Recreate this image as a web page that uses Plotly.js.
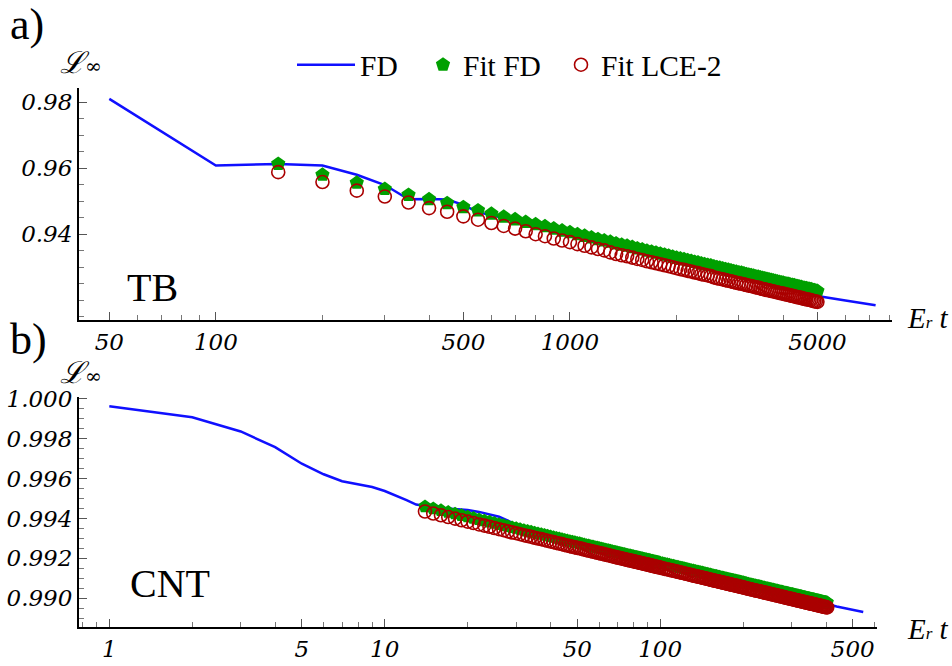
<!DOCTYPE html>
<html>
<head>
<meta charset="utf-8">
<script src="https://cdn.plot.ly/plotly-3.0.1.min.js"></script>
<style>html,body{margin:0;padding:0;background:#fff;}#chart{width:952px;height:666px;}</style>
</head>
<body>
<div id="chart"></div>
<script>
// ---------- Panel a) TB ----------
const tbFdX = [50,100,150,200,250,300,350,400,450,500,550,600,700,800,1000,1500,2000,3000,4000,5000,6000,7300];
const tbFdY = [0.9810,0.9608,0.9613,0.9608,0.9580,0.9549,0.9506,0.9507,0.9505,0.9489,0.9466,0.9458,0.9440,0.9424,0.9396,0.9348,0.9315,0.9270,0.9238,0.9213,0.9199,0.9185];

const tbFitX = [150,200,250,300,350,400,450,500,550,600,650,700,750,800,850,900,950,1000,
1050,1100,1150,1200,1250,1300,1350,1400,1450,1500,1550,1600,1650,1700,1750,1800,1850,1900,1950,2000,
2050,2100,2150,2200,2250,2300,2350,2400,2450,2500,2550,2600,2650,2700,2750,2800,2850,2900,2950,3000,
3050,3100,3150,3200,3250,3300,3350,3400,3450,3500,3550,3600,3650,3700,3750,3800,3850,3900,3950,4000,
4050,4100,4150,4200,4250,4300,4350,4400,4450,4500,4550,4600,4650,4700,4750,4800,4850,4900,4950,5000];

const tbFitFdY = [0.9613,0.9580,0.9556,0.9537,0.9519,0.9506,0.9494,0.9482,0.9472,0.9462,0.9453,0.9445,0.9437,0.9430,0.9424,0.9417,0.9411,0.9406,
0.9400,0.9395,0.9390,0.9385,0.9381,0.9377,0.9372,0.9368,0.9365,0.9361,0.9357,0.9354,0.9350,0.9347,0.9344,0.9341,0.9338,0.9335,0.9332,0.9329,
0.9326,0.9324,0.9321,0.9319,0.9316,0.9314,0.9311,0.9309,0.9307,0.9305,0.9302,0.9300,0.9298,0.9296,0.9294,0.9292,0.9290,0.9288,0.9286,0.9284,
0.9283,0.9281,0.9279,0.9277,0.9276,0.9274,0.9272,0.9271,0.9269,0.9267,0.9266,0.9264,0.9263,0.9261,0.9260,0.9258,0.9257,0.9255,0.9254,0.9253,
0.9251,0.9250,0.9249,0.9247,0.9246,0.9245,0.9243,0.9242,0.9241,0.9240,0.9238,0.9237,0.9236,0.9235,0.9234,0.9233,0.9231,0.9230,0.9229,0.9228];

const tbFitLceY = [0.9588,0.9558,0.9532,0.9514,0.9496,0.9479,0.9468,0.9454,0.9444,0.9434,0.9425,0.9417,0.9409,0.9400,0.9394,0.9387,0.9381,0.9376,
0.9370,0.9365,0.9360,0.9355,0.9351,0.9345,0.9340,0.9336,0.9333,0.9329,0.9325,0.9322,0.9318,0.9315,0.9312,0.9309,0.9306,0.9303,0.9300,0.9297,
0.9294,0.9292,0.9289,0.9287,0.9284,0.9282,0.9279,0.9277,0.9275,0.9273,0.9269,0.9267,0.9265,0.9263,0.9261,0.9259,0.9257,0.9255,0.9253,0.9251,
0.9250,0.9248,0.9246,0.9244,0.9243,0.9241,0.9239,0.9238,0.9236,0.9234,0.9233,0.9231,0.9230,0.9228,0.9227,0.9225,0.9224,0.9222,0.9221,0.9220,
0.9218,0.9217,0.9216,0.9214,0.9213,0.9212,0.9210,0.9209,0.9208,0.9207,0.9205,0.9204,0.9203,0.9202,0.9201,0.9200,0.9198,0.9197,0.9196,0.9195];

// ---------- Panel b) CNT ----------
const cntFdX = [1,2,3,4,5,6,7,8,9,10,11,12,13,14,15,16,17,18,19,20,22,24,26,28,30,35,40,50,70,100,150,200,300,437,546];
const cntFdY = [0.99963,0.99908,0.99837,0.99758,0.99675,0.99622,0.99587,0.99572,0.99558,0.99538,0.99516,0.99492,0.99470,0.99462,0.99456,0.99452,0.99450,0.99448,0.99446,0.99442,0.99433,0.99422,0.99409,0.99389,0.99368,0.99330,0.99305,0.99272,0.99228,0.99175,0.99120,0.99080,0.99020,0.98958,0.98930];

const cntFitX = [14,15,16,17,18,19,20,21,22,23,24,25,26,27,28,29,30,31,32,33,34,35,36,37,38,39,40,41,42,43,44,45,46,47,48,49,50,
51,52,53,54,55,56,57,58,59,60,61,62,63,64,65,66,67,68,69,70,71,72,73,74,75,76,77,78,79,80,81,82,83,84,85,86,87,88,89,90,91,92,93,94,95,96,97,98,99,100,
102,104,106,108,110,112,114,116,118,120,122,124,126,128,130,132,134,136,138,140,142,144,146,148,150,
152,154,156,158,160,162,164,166,168,170,172,174,176,178,180,182,184,186,188,190,192,194,196,198,200,
203,206,209,212,215,218,221,224,227,230,233,236,239,242,245,248,251,254,257,260,263,266,269,272,275,278,281,284,287,290,
293,296,299,302,305,308,311,314,317,320,323,326,329,332,335,338,341,344,347,350,353,356,359,362,365,368,371,374,377,380,
383,386,389,392,395,398,401,404];

const cntFitFdY = [0.99460,0.99450,0.99441,0.99432,0.99424,0.99416,0.99409,0.99402,0.99395,0.99389,
0.99383,0.99377,0.99371,0.99366,0.99360,0.99355,0.99351,0.99346,0.99341,0.99337,
0.99333,0.99328,0.99324,0.99321,0.99317,0.99313,0.99309,0.99306,0.99302,0.99299,
0.99296,0.99292,0.99289,0.99286,0.99283,0.99280,0.99277,0.99275,0.99272,0.99269,
0.99266,0.99264,0.99261,0.99259,0.99256,0.99254,0.99251,0.99249,0.99247,0.99244,
0.99242,0.99240,0.99238,0.99235,0.99233,0.99231,0.99229,0.99227,0.99225,0.99223,
0.99221,0.99219,0.99217,0.99215,0.99214,0.99212,0.99210,0.99208,0.99206,0.99205,
0.99203,0.99201,0.99200,0.99198,0.99196,0.99195,0.99193,0.99192,0.99190,0.99188,
0.99187,0.99185,0.99184,0.99182,0.99181,0.99180,0.99178,
0.99175,0.99172,0.99170,0.99167,0.99164,0.99162,0.99159,0.99157,0.99154,0.99152,
0.99150,0.99147,0.99145,0.99143,0.99140,0.99138,0.99136,0.99134,0.99132,0.99130,
0.99128,0.99126,0.99124,0.99122,0.99120,0.99118,0.99116,0.99114,0.99112,0.99111,
0.99109,0.99107,0.99105,0.99104,0.99102,0.99100,0.99099,0.99097,0.99095,0.99094,
0.99092,0.99091,0.99089,0.99088,0.99086,0.99085,0.99083,0.99082,0.99080,0.99079,
0.99077,0.99074,0.99072,0.99070,0.99068,0.99066,0.99064,0.99062,0.99061,0.99059,
0.99057,0.99055,0.99053,0.99051,0.99050,0.99048,0.99046,0.99044,0.99043,0.99041,
0.99039,0.99038,0.99036,0.99035,0.99033,0.99032,0.99030,0.99028,0.99027,0.99025,
0.99024,0.99022,0.99021,0.99020,0.99018,0.99017,0.99015,0.99014,0.99013,0.99011,
0.99010,0.99009,0.99007,0.99006,0.99005,0.99003,0.99002,0.99001,0.99000,0.98998,
0.98997,0.98996,0.98995,0.98994,0.98992,0.98991,0.98990,0.98989,0.98988,0.98987,
0.98986,0.98984,0.98983,0.98982,0.98981,0.98980,0.98979,0.98978];

const cntFitLceY = [0.99435,0.99425,0.99416,0.99407,0.99399,0.99391,0.99384,0.99377,0.99370,0.99364,
0.99358,0.99352,0.99346,0.99341,0.99335,0.99330,0.99326,0.99321,0.99316,0.99312,
0.99308,0.99303,0.99299,0.99296,0.99292,0.99288,0.99284,0.99281,0.99277,0.99274,
0.99271,0.99267,0.99264,0.99261,0.99258,0.99255,0.99252,0.99250,0.99247,0.99244,
0.99241,0.99239,0.99236,0.99234,0.99231,0.99229,0.99226,0.99224,0.99222,0.99219,
0.99217,0.99215,0.99213,0.99210,0.99208,0.99206,0.99204,0.99202,0.99200,0.99198,
0.99196,0.99194,0.99192,0.99190,0.99189,0.99187,0.99185,0.99183,0.99181,0.99180,
0.99178,0.99176,0.99175,0.99173,0.99171,0.99170,0.99168,0.99167,0.99165,0.99163,
0.99162,0.99160,0.99159,0.99157,0.99156,0.99155,0.99153,
0.99150,0.99147,0.99145,0.99142,0.99139,0.99137,0.99134,0.99132,0.99129,0.99127,
0.99125,0.99122,0.99120,0.99118,0.99115,0.99113,0.99111,0.99109,0.99107,0.99105,
0.99103,0.99101,0.99099,0.99097,0.99095,0.99093,0.99091,0.99089,0.99087,0.99086,
0.99084,0.99082,0.99080,0.99079,0.99077,0.99075,0.99074,0.99072,0.99070,0.99069,
0.99067,0.99066,0.99064,0.99063,0.99061,0.99060,0.99058,0.99057,0.99055,0.99054,
0.99052,0.99049,0.99047,0.99045,0.99043,0.99041,0.99039,0.99037,0.99036,0.99034,
0.99032,0.99030,0.99028,0.99026,0.99025,0.99023,0.99021,0.99019,0.99018,0.99016,
0.99014,0.99013,0.99011,0.99010,0.99008,0.99007,0.99005,0.99003,0.99002,0.99000,
0.98999,0.98997,0.98996,0.98995,0.98993,0.98992,0.98990,0.98989,0.98988,0.98986,
0.98985,0.98984,0.98982,0.98981,0.98980,0.98978,0.98977,0.98976,0.98975,0.98973,
0.98972,0.98971,0.98970,0.98969,0.98967,0.98966,0.98965,0.98964,0.98963,0.98962,
0.98961,0.98959,0.98958,0.98957,0.98956,0.98955,0.98954,0.98953];

// ---------- Ticks ----------
const tbXTicks = [50,100,500,1000,5000];
const tbXMinor = [60,70,80,90,200,300,400,600,700,800,900,2000,3000,4000,6000,7000,8000];
const tbYTicks = [0.94,0.96,0.98];
const cntXTicks = [1,5,10,50,100,500];
const cntXMinor = [0.8,0.9,2,3,4,6,7,8,9,20,30,40,60,70,80,90,200,300,400,600];
const cntYTicks = [0.990,0.992,0.994,0.996,0.998,1.000];

const seriesNames = ['FD','Fit FD','Fit LCE-2'];

const BLUE = '#1010ff', GREEN = '#00a000', RED = '#aa0000';

const traces = [
  {x: tbFdX, y: tbFdY, xaxis:'x', yaxis:'y', mode:'lines', name: seriesNames[0], legend:'legend', line:{color:BLUE, width:2.5}},
  {x: tbFitX, y: tbFitFdY, xaxis:'x', yaxis:'y', mode:'markers', name: seriesNames[1], legend:'legend2', marker:{symbol:'pentagon', size:15, color:GREEN, line:{width:0}}},
  {x: tbFitX, y: tbFitLceY, xaxis:'x', yaxis:'y', mode:'markers', name: seriesNames[2], legend:'legend3', marker:{symbol:'circle-open', size:13, color:RED, line:{width:1.6, color:RED}}},
  {x: cntFdX, y: cntFdY, xaxis:'x2', yaxis:'y2', mode:'lines', name: seriesNames[0], showlegend:false, line:{color:BLUE, width:2.5}},
  {x: cntFitX, y: cntFitFdY, xaxis:'x2', yaxis:'y2', mode:'markers', name: seriesNames[1], showlegend:false, marker:{symbol:'pentagon', size:14, color:GREEN, line:{width:0}}},
  {x: cntFitX, y: cntFitLceY, xaxis:'x2', yaxis:'y2', mode:'markers', name: seriesNames[2], showlegend:false, marker:{symbol:'circle-open', size:13, color:RED, line:{width:1.6, color:RED}}}
];

const tickFont = {family:'DejaVu Serif', size:23, style:'italic', color:'black'};
const common = {showgrid:false, zeroline:false, showline:true, linecolor:'black', linewidth:2,
  ticks:'inside', ticklen:8, tickwidth:1, tickcolor:'#555', tickfont:tickFont};
const legFont = {family:'Liberation Serif', size:29.5, color:'black'};
const legBase = {orientation:'h', xanchor:'left', y:0.9024, yanchor:'middle', font:legFont, bgcolor:'rgba(0,0,0,0)'};

const layout = {
  width:952, height:666,
  margin:{l:79, r:60, t:0, b:0},
  paper_bgcolor:'white', plot_bgcolor:'white',
  font:{family:'Liberation Serif', color:'black'},
  showlegend:true,
  legend: Object.assign({}, legBase, {x:(292-79)/813, itemwidth:58}),
  legend2: Object.assign({}, legBase, {x:(423-79)/813}),
  legend3: Object.assign({}, legBase, {x:(561-79)/813}),
  xaxis: Object.assign({}, common, {type:'log', domain:[0,1], anchor:'y', range:[1.6134,3.9096],
    tickmode:'array', tickvals:tbXTicks, ticktext:tbXTicks.map(String),
    minor:{tickmode:'array', tickvals:tbXMinor, ticks:'inside', ticklen:5, tickwidth:1, tickcolor:'#777'}}),
  yaxis: Object.assign({}, common, {domain:[0.5195,0.8679], anchor:'x', range:[0.914,0.9843],
    tickmode:'array', tickvals:tbYTicks, ticktext:tbYTicks.map(v=>v.toFixed(2)),
    minor:{dtick:0.005, tick0:0.9, ticks:'inside', ticklen:5, tickwidth:1, tickcolor:'#777'}}),
  xaxis2: Object.assign({}, common, {type:'log', domain:[0,0.9815], anchor:'y2', range:[-0.110,2.787],
    tickmode:'array', tickvals:cntXTicks, ticktext:cntXTicks.map(String),
    minor:{tickmode:'array', tickvals:cntXMinor, ticks:'inside', ticklen:5, tickwidth:1, tickcolor:'#777'}}),
  yaxis2: Object.assign({}, common, {domain:[0.0586,0.4039], anchor:'x2', range:[0.98855,1.0001],
    tickmode:'array', tickvals:cntYTicks, ticktext:cntYTicks.map(v=>v.toFixed(3)),
    minor:{dtick:0.0005, tick0:0.99, ticks:'inside', ticklen:5, tickwidth:1, tickcolor:'#777'}}),
  annotations:[
    {text:'a)', xref:'paper', yref:'paper', x:-0.087, y:0.9625, xanchor:'left', yanchor:'middle', showarrow:false, font:{family:'Liberation Serif', size:44}},
    {text:'b)', xref:'paper', yref:'paper', x:-0.087, y:0.4895, xanchor:'left', yanchor:'middle', showarrow:false, font:{family:'Liberation Serif', size:44}},
    {text:'ℒ<span style="font-size:20px">∞</span>', xref:'paper', yref:'paper', x:0.002, y:0.9069, xanchor:'center', yanchor:'middle', showarrow:false, font:{family:'DejaVu Serif', size:30, style:'italic'}},
    {text:'ℒ<span style="font-size:20px">∞</span>', xref:'paper', yref:'paper', x:0.002, y:0.4414, xanchor:'center', yanchor:'middle', showarrow:false, font:{family:'DejaVu Serif', size:30, style:'italic'}},
    {text:'<i>E</i><span style="font-size:17px"><i>r</i></span> <i>t</i>', xref:'paper', yref:'paper', x:1.016, y:0.5225, xanchor:'left', yanchor:'middle', showarrow:false, font:{family:'Liberation Serif', size:29}},
    {text:'<i>E</i><span style="font-size:17px"><i>r</i></span> <i>t</i>', xref:'paper', yref:'paper', x:1.016, y:0.0556, xanchor:'left', yanchor:'middle', showarrow:false, font:{family:'Liberation Serif', size:29}},
    {text:'TB', xref:'paper', yref:'paper', x:0.0898, y:0.5676, xanchor:'center', yanchor:'middle', showarrow:false, font:{family:'Liberation Serif', size:40}},
    {text:'CNT', xref:'paper', yref:'paper', x:0.1119, y:0.1246, xanchor:'center', yanchor:'middle', showarrow:false, font:{family:'Liberation Serif', size:40}}
  ]
};

Plotly.newPlot('chart', traces, layout, {staticPlot:true, displayModeBar:false});
</script>
</body>
</html>
